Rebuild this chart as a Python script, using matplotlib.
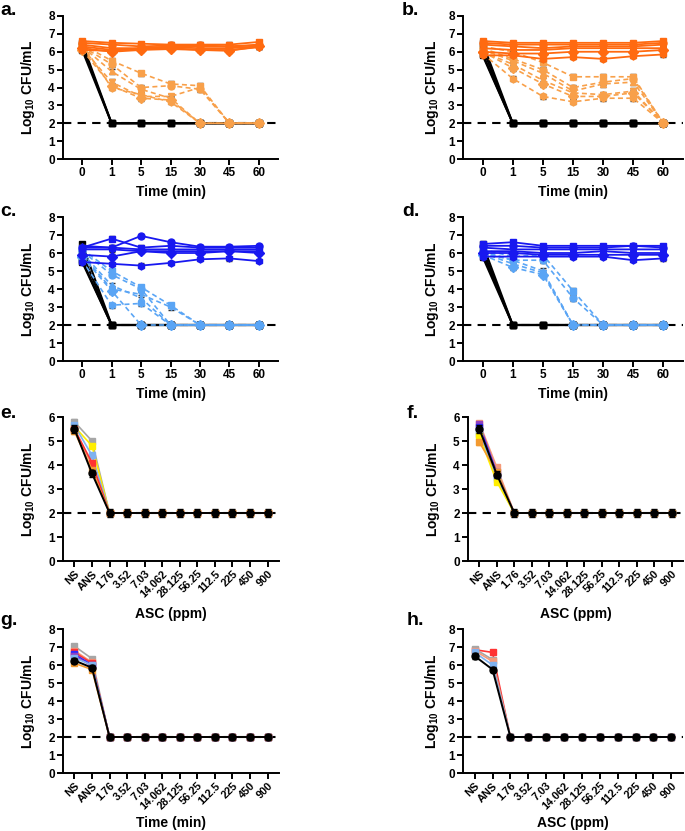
import matplotlib
matplotlib.use("Agg")
import matplotlib.pyplot as plt

plt.rcParams['font.family'] = ['Liberation Sans', 'DejaVu Sans']
plt.rcParams['font.weight'] = 'bold'
plt.rcParams['mathtext.default'] = 'regular'

# ---------------- data ----------------
time_labels = ["0", "1", "5", "15", "30", "45", "60"]
asc_labels = ["NS", "ANS", "1.76", "3.52", "7.03", "14.062", "28.125",
              "56.25", "112.5", "225", "450", "900"]

# panel a
a_solid = [
    [6.6, 6.5, 6.45, 6.4, 6.4, 6.4, 6.55],
    [6.5, 6.4, 6.3, 6.35, 6.35, 6.3, 6.4],
    [6.4, 6.2, 6.2, 6.25, 6.2, 6.2, 6.3],
    [6.3, 6.1, 6.15, 6.2, 6.1, 6.1, 6.25],
    [6.2, 6.0, 6.1, 6.15, 6.1, 6.05, 6.3],
    [6.1, 6.05, 6.2, 6.3, 6.3, 6.3, 6.35],
]
a_dashed = [
    [6.4, 5.5, 4.8, 4.2, 4.1, 2.0, 2.0],
    [6.3, 5.3, 4.0, 4.1, 3.9, 2.0, 2.0],
    [6.3, 4.9, 3.9, 3.4, 2.0, 2.0, 2.0],
    [6.2, 4.3, 3.5, 3.5, 4.0, 2.0, 2.0],
    [6.1, 4.1, 3.4, 3.3, 2.0, 2.0, 2.0],
    [6.4, 4.0, 3.6, 3.2, 2.0, 2.0, 2.0],
]
a_black = [
    [6.5, 2.0, 2.0, 2.0, 2.0, 2.0, 2.0],
    [6.3, 2.0, 2.0, 2.0, 2.0, 2.0, 2.0],
    [6.1, 2.0, 2.0, 2.0, 2.0, 2.0, 2.0],
]

# panel b
b_solid = [
    [6.6, 6.5, 6.5, 6.5, 6.5, 6.5, 6.6],
    [6.5, 6.4, 6.4, 6.4, 6.4, 6.4, 6.5],
    [6.4, 6.3, 6.2, 6.3, 6.3, 6.3, 6.4],
    [6.2, 6.1, 6.1, 6.2, 6.2, 6.2, 6.2],
    [6.0, 5.9, 5.9, 6.0, 6.0, 6.0, 6.1],
    [5.8, 5.8, 5.6, 5.7, 5.6, 5.75, 5.85],
]
b_dashed = [
    [6.3, 6.0, 5.4, 4.6, 4.6, 4.6, 2.0],
    [6.2, 5.6, 5.0, 4.0, 4.3, 4.5, 2.0],
    [6.1, 5.5, 4.8, 3.8, 4.2, 4.3, 2.0],
    [6.0, 5.3, 4.4, 3.7, 3.6, 3.8, 2.0],
    [6.0, 5.1, 4.2, 3.5, 3.5, 3.7, 2.0],
    [5.9, 4.5, 3.5, 3.2, 3.4, 3.4, 2.0],
]
b_black = [
    [6.5, 2.0, 2.0, 2.0, 2.0, 2.0, 2.0],
    [6.2, 2.0, 2.0, 2.0, 2.0, 2.0, 2.0],
    [5.9, 2.0, 2.0, 2.0, 2.0, 2.0, 2.0],
    [5.8, 2.0, 2.0, 2.0, 2.0, 2.0, 2.0],
]

# panel c
c_solid = [
    [6.3, 6.8, 6.3, 6.4, 6.3, 6.3, 6.3],
    [6.3, 6.3, 6.95, 6.6, 6.35, 6.35, 6.4],
    [6.4, 6.3, 6.2, 6.2, 6.2, 6.2, 6.2],
    [6.2, 6.2, 6.1, 6.1, 6.1, 6.1, 6.1],
    [5.9, 5.8, 6.1, 6.0, 6.0, 6.1, 6.0],
    [5.5, 5.4, 5.3, 5.45, 5.65, 5.7, 5.55],
]
c_dashed = [
    [6.2, 5.0, 4.1, 3.1, 2.0, 2.0, 2.0],
    [6.1, 4.8, 4.0, 2.0, 2.0, 2.0, 2.0],
    [6.0, 4.2, 3.5, 2.0, 2.0, 2.0, 2.0],
    [5.9, 4.0, 3.7, 3.0, 2.0, 2.0, 2.0],
    [5.8, 3.9, 2.0, 2.0, 2.0, 2.0, 2.0],
    [5.6, 3.1, 3.2, 2.0, 2.0, 2.0, 2.0],
]
c_black = [
    [6.5, 2.0, 2.0, 2.0, 2.0, 2.0, 2.0],
    [6.0, 2.0, 2.0, 2.0, 2.0, 2.0, 2.0],
    [5.6, 2.0, 2.0, 2.0, 2.0, 2.0, 2.0],
    [5.5, 2.0, 2.0, 2.0, 2.0, 2.0, 2.0],
]

# panel d
d_solid = [
    [6.5, 6.6, 6.4, 6.4, 6.4, 6.4, 6.4],
    [6.4, 6.4, 6.3, 6.3, 6.3, 6.4, 6.3],
    [6.3, 6.2, 6.2, 6.2, 6.2, 6.2, 6.2],
    [6.1, 6.1, 6.0, 6.0, 6.1, 6.0, 6.0],
    [6.0, 6.0, 5.9, 5.9, 5.9, 5.9, 5.9],
    [5.8, 5.8, 5.8, 5.8, 5.8, 5.6, 5.7],
]
d_dashed = [
    [6.2, 5.8, 5.9, 3.9, 2.0, 2.0, 2.0],
    [6.1, 5.6, 5.6, 3.5, 2.0, 2.0, 2.0],
    [6.0, 5.6, 5.0, 2.0, 2.0, 2.0, 2.0],
    [6.0, 5.4, 4.9, 2.0, 2.0, 2.0, 2.0],
    [5.9, 5.2, 4.8, 2.0, 2.0, 2.0, 2.0],
]
d_black = [
    [6.5, 2.0, 2.0, 2.0, 2.0, 2.0, 2.0],
    [6.2, 2.0, 2.0, 2.0, 2.0, 2.0, 2.0],
    [6.0, 2.0, 2.0, 2.0, 2.0, 2.0, 2.0],
    [5.8, 2.0, 2.0, 2.0, 2.0, 2.0, 2.0],
]

# panels e-h : colour -> values over asc_labels
e_series = {
    "#a6a6a6": [5.8, 5.0, 2.0, 2.0, 2.0, 2.0, 2.0, 2.0, 2.0, 2.0, 2.0, 2.0],
    "#ffee00": [5.6, 4.8, 2.0, 2.0, 2.0, 2.0, 2.0, 2.0, 2.0, 2.0, 2.0, 2.0],
    "#7fb2f0": [5.65, 4.4, 2.0, 2.0, 2.0, 2.0, 2.0, 2.0, 2.0, 2.0, 2.0, 2.0],
    "#f59a7a": [5.45, 4.0, 2.0, 2.0, 2.0, 2.0, 2.0, 2.0, 2.0, 2.0, 2.0, 2.0],
    "#ff3333": [5.5, 4.1, 2.0, 2.0, 2.0, 2.0, 2.0, 2.0, 2.0, 2.0, 2.0, 2.0],
    "#f39a30": [5.4, 3.8, 2.0, 2.0, 2.0, 2.0, 2.0, 2.0, 2.0, 2.0, 2.0, 2.0],
    "#000000": [5.5, 3.65, 2.0, 2.0, 2.0, 2.0, 2.0, 2.0, 2.0, 2.0, 2.0, 2.0],
}
f_series = {
    "#f59a7a": [5.75, 3.9, 2.0, 2.0, 2.0, 2.0, 2.0, 2.0, 2.0, 2.0, 2.0, 2.0],
    "#9040c0": [5.7, 3.7, 2.0, 2.0, 2.0, 2.0, 2.0, 2.0, 2.0, 2.0, 2.0, 2.0],
    "#2a2aff": [5.6, 3.6, 2.0, 2.0, 2.0, 2.0, 2.0, 2.0, 2.0, 2.0, 2.0, 2.0],
    "#a6a6a6": [5.3, 3.5, 2.0, 2.0, 2.0, 2.0, 2.0, 2.0, 2.0, 2.0, 2.0, 2.0],
    "#7fb2f0": [5.4, 3.4, 2.0, 2.0, 2.0, 2.0, 2.0, 2.0, 2.0, 2.0, 2.0, 2.0],
    "#ffee00": [5.2, 3.3, 2.0, 2.0, 2.0, 2.0, 2.0, 2.0, 2.0, 2.0, 2.0, 2.0],
    "#f39a30": [4.95, 3.7, 2.0, 2.0, 2.0, 2.0, 2.0, 2.0, 2.0, 2.0, 2.0, 2.0],
    "#000000": [5.5, 3.6, 2.0, 2.0, 2.0, 2.0, 2.0, 2.0, 2.0, 2.0, 2.0, 2.0],
}
g_series = {
    "#a6a6a6": [7.05, 6.35, 2.0, 2.0, 2.0, 2.0, 2.0, 2.0, 2.0, 2.0, 2.0, 2.0],
    "#f59a7a": [6.8, 6.15, 2.0, 2.0, 2.0, 2.0, 2.0, 2.0, 2.0, 2.0, 2.0, 2.0],
    "#ff3333": [6.7, 6.1, 2.0, 2.0, 2.0, 2.0, 2.0, 2.0, 2.0, 2.0, 2.0, 2.0],
    "#2a2aff": [6.6, 6.0, 2.0, 2.0, 2.0, 2.0, 2.0, 2.0, 2.0, 2.0, 2.0, 2.0],
    "#9040c0": [6.5, 5.95, 2.0, 2.0, 2.0, 2.0, 2.0, 2.0, 2.0, 2.0, 2.0, 2.0],
    "#7fb2f0": [6.4, 6.0, 2.0, 2.0, 2.0, 2.0, 2.0, 2.0, 2.0, 2.0, 2.0, 2.0],
    "#f39a30": [6.1, 5.75, 2.0, 2.0, 2.0, 2.0, 2.0, 2.0, 2.0, 2.0, 2.0, 2.0],
    "#000000": [6.25, 5.85, 2.0, 2.0, 2.0, 2.0, 2.0, 2.0, 2.0, 2.0, 2.0, 2.0],
}
h_series = {
    "#ff3333": [6.85, 6.7, 2.0, 2.0, 2.0, 2.0, 2.0, 2.0, 2.0, 2.0, 2.0, 2.0],
    "#a6a6a6": [6.9, 6.3, 2.0, 2.0, 2.0, 2.0, 2.0, 2.0, 2.0, 2.0, 2.0, 2.0],
    "#f59a7a": [6.8, 6.2, 2.0, 2.0, 2.0, 2.0, 2.0, 2.0, 2.0, 2.0, 2.0, 2.0],
    "#7fb2f0": [6.7, 6.0, 2.0, 2.0, 2.0, 2.0, 2.0, 2.0, 2.0, 2.0, 2.0, 2.0],
    "#000000": [6.5, 5.75, 2.0, 2.0, 2.0, 2.0, 2.0, 2.0, 2.0, 2.0, 2.0, 2.0],
}

# ---------------- styling ----------------
W, H = 685, 831
fig = plt.figure(figsize=(W / 100, H / 100), dpi=100)

def ax_px(left, top, right, bottom):
    ax = fig.add_axes([left / W, 1 - bottom / H, (right - left) / W, (bottom - top) / H])
    ax._px = (left, top, right, bottom)
    return ax

markers = ['s', 'o', '^', 'v', 'D', 'h']

def style_axes(ax, labels, ymax, xlabel, rotate=False, ylab_dx=26, xlab_dy=33):
    left, top, right, bottom = ax._px
    wpx, hpx = right - left, bottom - top
    ax.set_ylim(0, ymax)
    ax.set_yticks(range(0, ymax + 1))
    n = len(labels)
    ax.set_xlim(-0.65, n - 1 + 0.65)
    ax.set_xticks(range(n))
    if rotate:
        ax.set_xticklabels(labels, rotation=45, ha='right', rotation_mode='anchor')
    else:
        ax.set_xticklabels(labels)
    for s in ['top', 'right']:
        ax.spines[s].set_visible(False)
    for s in ['left', 'bottom']:
        ax.spines[s].set_linewidth(1.4)
    ax.tick_params(width=1.4, length=4, labelsize=8.5, pad=2)
    if rotate:
        ax.tick_params(axis='x', labelsize=7.8, pad=1.5)
    for t in ax.get_xticklabels() + ax.get_yticklabels():
        t.set_fontweight('bold')
    ax.set_ylabel("Log$_{10}$ CFU/mL", fontsize=10, fontweight='bold')
    ax.yaxis.set_label_coords(-ylab_dx / wpx, 0.5)
    ax.set_xlabel(xlabel, fontsize=10, fontweight='bold', va='center')
    ax.xaxis.set_label_coords(0.5, -xlab_dy / hpx)
    ax.axhline(2, color='black', ls=(0, (4, 3)), lw=1.5, zorder=1)

def time_panel(ax, solid, dashed, black, c_solid, c_dashed, ylab_dx):
    x = range(len(time_labels))
    for i, y in enumerate(black):
        ax.plot(x, y, color='black', lw=1.5, marker='s', ms=5, zorder=2)
    for i, y in enumerate(dashed):
        ax.errorbar(x, y, yerr=0.15, color=c_dashed, ecolor='#333333', elinewidth=0.8,
                    capsize=2, ls=(0, (3, 2)), lw=1.2, marker=markers[i % 6], ms=5,
                    zorder=3)
    for i, y in enumerate(solid):
        ax.errorbar(x, y, yerr=0.12, color=c_solid, ecolor='#333333', elinewidth=0.8,
                    capsize=2, lw=1.3, marker=markers[i % 6], ms=5, zorder=4)
    style_axes(ax, time_labels, 8, "Time (min)", ylab_dx=ylab_dx, xlab_dy=33)

def asc_panel(ax, series, ymax, xlabel, ylab_dx, xlab_dy):
    x = range(len(asc_labels))
    for c, y in series.items():
        if c == "#000000":
            continue
        ax.errorbar(x, y, yerr=0.1, color=c, ecolor=c, elinewidth=0.8, capsize=2,
                    lw=1.2, marker='s', ms=4.5, zorder=3)
    yb = series["#000000"]
    ax.errorbar(x, yb, yerr=0.15, color='black', ecolor='black', elinewidth=0.8,
                capsize=2, lw=1.4, marker='o', ms=5, zorder=4)
    style_axes(ax, asc_labels, ymax, xlabel, rotate=True, ylab_dx=ylab_dx, xlab_dy=xlab_dy)

orange = "#ff6a10"
lorange = "#f8a04a"
blue = "#1818f0"
lblue = "#5aa5f5"

axa = ax_px(63, 16, 278, 159)
time_panel(axa, a_solid, a_dashed, a_black, orange, lorange, 26)
axb = ax_px(463, 16, 683, 159)
time_panel(axb, b_solid, b_dashed, b_black, orange, lorange, 22)
axc = ax_px(63, 217, 278, 361)
time_panel(axc, c_solid, c_dashed, c_black, blue, lblue, 26)
axd = ax_px(463, 217, 683, 361)
time_panel(axd, d_solid, d_dashed, d_black, blue, lblue, 22)

axe = ax_px(63, 417, 279, 561)
asc_panel(axe, e_series, 6, "ASC (ppm)", 26, 53)
axf = ax_px(468, 417, 683, 561)
asc_panel(axf, f_series, 6, "ASC (ppm)", 26, 53)
axg = ax_px(63, 629, 279, 773)
asc_panel(axg, g_series, 8, "Time (min)", 26, 50)
axh = ax_px(463, 629, 683, 773)
asc_panel(axh, h_series, 8, "ASC (ppm)", 22, 50)

panel_labels = [("a.", 0, 2), ("b.", 402, 2), ("c.", 0, 203), ("d.", 402, 203),
                ("e.", 0, 405), ("f.", 407, 405), ("g.", 0, 612), ("h.", 407, 612)]
for txt, px, py in panel_labels:
    fig.text(px / W, 1 - py / H, txt, fontsize=14, fontweight='bold', va='top', ha='left')

fig.savefig("out.png", dpi=100)
